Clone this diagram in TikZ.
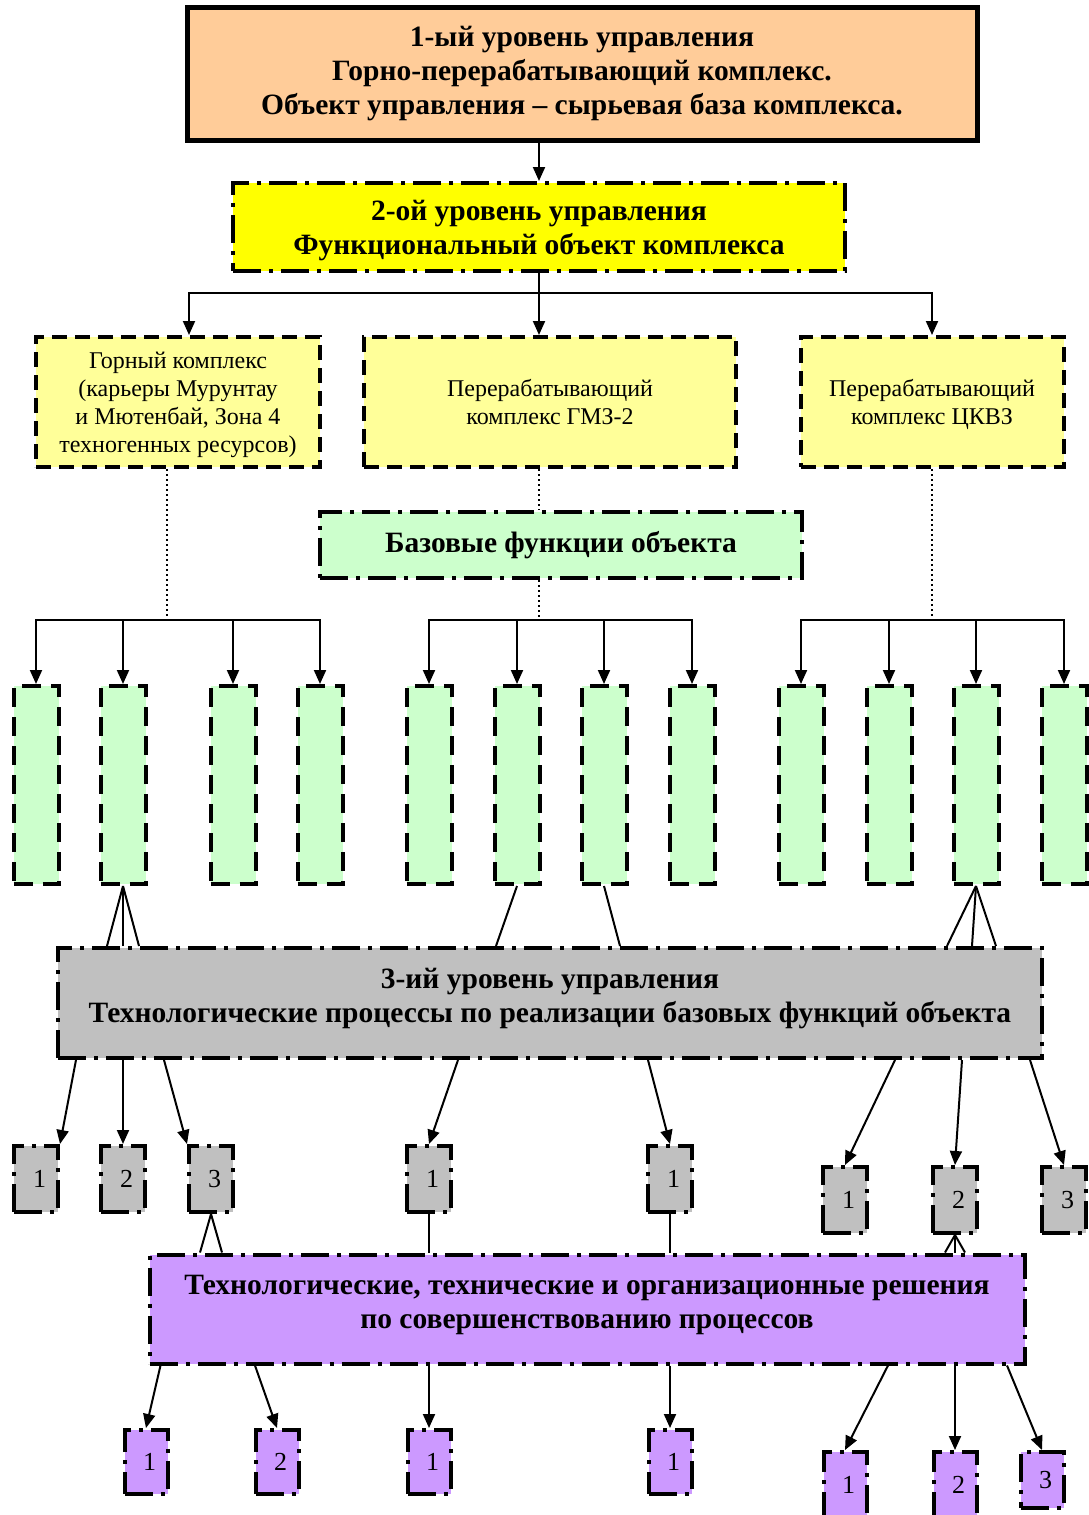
\documentclass[tikz,border=0pt]{standalone}
\usepackage{fontspec}
\setmainfont{Liberation Serif}
\usetikzlibrary{arrows.meta,calc}
\definecolor{peach}{HTML}{FFCC99}
\definecolor{lemon}{HTML}{FFFF00}
\definecolor{paleyellow}{HTML}{FFFF99}
\definecolor{mint}{HTML}{CCFFCC}
\definecolor{silver}{HTML}{C0C0C0}
\definecolor{lilac}{HTML}{CC99FF}
\begin{document}
\begin{tikzpicture}[x=1pt,y=-1pt,
  arr/.style={-{Triangle[length=14pt,width=12pt]}, line width=2pt},
  link/.style={line width=2pt},
  dotline/.style={line width=2pt, dash pattern=on 2pt off 3pt},
  dashdot/.style={draw, rectangle, line width=4pt, dash pattern=on 28pt off 8pt on 4pt off 8pt},
  boldtext/.style={align=center, font=\bfseries\fontsize{29.5}{34}\selectfont},
  unitbox/.style={draw, rectangle, fill=paleyellow, line width=4pt, dash pattern=on 15pt off 8pt, minimum height=130pt, align=center, font=\fontsize{24}{28}\selectfont},
  funcbox/.style={draw, rectangle, fill=mint, line width=4pt, dash pattern=on 19pt off 10pt, minimum width=45pt, minimum height=198pt, node distance=87pt},
  procbox/.style={dashdot, fill=silver, minimum width=44pt, minimum height=66pt, font=\fontsize{26}{26}\selectfont},
  solbox/.style={dashdot, fill=lilac, minimum width=43pt, minimum height=64pt, font=\fontsize{26}{26}\selectfont}]
\useasboundingbox (0,0) rectangle (1088,1515);
\node (lvl1) [draw, rectangle, fill=peach, line width=5pt, minimum width=790pt, minimum height=133pt, boldtext] at (582,74) {1-ый уровень управления\\Горно-перерабатывающий комплекс.\\Объект управления – сырьевая база комплекса.};
\node (lvl2) [dashdot, fill=lemon, minimum width=612pt, minimum height=88pt, boldtext, text depth=0pt] at (539,227) {2-ой уровень управления\\Функциональный объект комплекса};
\node (mine) [unitbox, minimum width=284pt, text depth=-5pt] at (178,402) {Горный комплекс\\(карьеры Мурунтау\\и Мютенбай, Зона 4\\техногенных ресурсов)};
\node (gmz) [unitbox, minimum width=372pt, text depth=-4pt] at (550,402) {Перерабатывающий\\комплекс ГМЗ-2};
\node (ckvz) [unitbox, minimum width=263pt, text depth=-4pt] at (932,402) {Перерабатывающий\\комплекс ЦКВЗ};
\node (base) [dashdot, fill=mint, minimum width=482pt, minimum height=66pt, boldtext] at (561,545) {Базовые функции объекта};
\coordinate (fk0) at (539,293);
\coordinate (fkA) at (167,620);
\coordinate (fkB) at (539,620);
\coordinate (fkC) at (932,620);
\draw[arr] (lvl1.south -| lvl2) -- (lvl2.north);
\draw[link] (lvl2.south -| fk0) -- (fk0);
\draw[arr] (fk0) -| ($(mine.north)+(11,0)$);
\draw[arr] (fk0) -- (gmz.north -| fk0);
\draw[arr] (fk0) -| (ckvz.north);
\draw[dotline] (mine.south -| fkA) -- (fkA);
\draw[dotline] (gmz.south -| fkB) -- (base.north -| fkB);
\draw[dotline] (base.south -| fkB) -- (fkB);
\draw[dotline] (ckvz.south -| fkC) -- (fkC);
\node (g1) [funcbox] at (36,785) {};
\node (g2) [funcbox, right of=g1] {};
\node (g3) [funcbox, node distance=110pt, right of=g2] {};
\node (g4) [funcbox, right of=g3] {};
\node (g5) [funcbox, node distance=109pt, right of=g4] {};
\node (g6) [funcbox, node distance=88pt, right of=g5] {};
\node (g7) [funcbox, right of=g6] {};
\node (g8) [funcbox, node distance=88pt, right of=g7] {};
\node (g9) [funcbox, node distance=109pt, right of=g8] {};
\node (g10) [funcbox, node distance=88pt, right of=g9] {};
\node (g11) [funcbox, right of=g10] {};
\node (g12) [funcbox, node distance=88pt, right of=g11] {};
\draw[arr] (fkA) -| (g1.north);
\draw[arr] (fkA) -| (g2.north);
\draw[arr] (fkA) -| (g3.north);
\draw[arr] (fkA) -| (g4.north);
\draw[arr] (fkB) -| (g5.north);
\draw[arr] (fkB) -| (g6.north);
\draw[arr] (fkB) -| (g7.north);
\draw[arr] (fkB) -| (g8.north);
\draw[arr] (fkC) -| (g9.north);
\draw[arr] (fkC) -| (g10.north);
\draw[arr] (fkC) -| (g11.north);
\draw[arr] (fkC) -| (g12.north);
\node (tech) [dashdot, fill=silver, minimum width=984pt, minimum height=110pt, boldtext, text depth=15pt] at (550,1003) {3-ий уровень управления\\Технологические процессы по реализации базовых функций объекта};
\draw[link] (g2.south) -- ($(g2.south |- tech.north)+(-16,0)$);
\draw[link] (g2.south) -- (g2.south |- tech.north);
\draw[link] (g2.south) -- ($(g2.south |- tech.north)+(16,0)$);
\draw[link] (g6.south) -- ($(g6.south |- tech.north)+(-21,0)$);
\draw[link] (g7.south) -- ($(g7.south |- tech.north)+(16,0)$);
\draw[link] (g11.south) -- ($(g11.south |- tech.north)+(-29,0)$);
\draw[link] (g11.south) -- ($(g11.south |- tech.north)+(-4,0)$);
\draw[link] (g11.south) -- ($(g11.south |- tech.north)+(20,0)$);
\node (s1) [procbox] at (36,1179) {\hspace{7pt}1};
\node (s2) [procbox, node distance=87pt, right of=s1] {\hspace{7pt}2};
\node (s3) [procbox, node distance=88pt, right of=s2] {\hspace{7pt}3};
\node (s4) [procbox, node distance=218pt, right of=s3] {\hspace{7pt}1};
\node (s5) [procbox, node distance=241pt, right of=s4] {\hspace{7pt}1};
\node (s6) [procbox] at (845,1200) {\hspace{7pt}1};
\node (s7) [procbox, node distance=110pt, right of=s6] {\hspace{7pt}2};
\node (s8) [procbox, node distance=109pt, right of=s7] {\hspace{7pt}3};
\draw[arr] ($(tech.south west)+(20,0)$) -- (s1.north east);
\draw[arr] (tech.south -| s2) -- (s2.north);
\draw[arr] ($(tech.south west)+(108,0)$) -- (s3.north west);
\draw[arr] ($(tech.south -| s4)+(29,0)$) -- (s4.north);
\draw[arr] ($(tech.south -| s5)+(-22,0)$) -- (s5.north);
\draw[arr] ($(tech.south -| s6)+(50,0)$) -- (s6.north);
\draw[arr] ($(tech.south -| s7)+(7,0)$) -- (s7.north);
\draw[arr] ($(tech.south -| s8)+(-34,0)$) -- (s8.north);
\node (impr) [dashdot, fill=lilac, minimum width=875pt, minimum height=109pt, boldtext, text depth=15pt] at (587,1309) {Технологические, технические и организационные решения\\по совершенствованию процессов};
\draw[link] (s3.south) -- ($(s3.south |- impr.north)+(-11,0)$);
\draw[link] (s3.south) -- ($(s3.south |- impr.north)+(11,0)$);
\draw[link] (s4.south) -- (s4.south |- impr.north);
\draw[link] (s5.south) -- (s5.south |- impr.north);
\draw[link] (s7.south) -- ($(s7.south |- impr.north)+(-10,0)$);
\draw[link] (s7.south) -- (s7.south |- impr.north);
\draw[link] (s7.south) -- ($(s7.south |- impr.north)+(10,0)$);
\node (p1) [solbox] at (146,1462) {\hspace{7pt}1};
\node (p2) [solbox, node distance=131pt, right of=p1] {\hspace{7pt}2};
\node (p3) [solbox, node distance=152pt, right of=p2] {\hspace{7pt}1};
\node (p4) [solbox, node distance=241pt, right of=p3] {\hspace{7pt}1};
\node (p5) [solbox, minimum height=66pt] at (845,1485) {\hspace{7pt}1};
\node (p6) [solbox, minimum height=66pt, node distance=110pt, right of=p5] {\hspace{7pt}2};
\node (p7) [solbox, minimum height=56pt] at (1042,1480) {\hspace{7pt}3};
\draw[arr] ($(impr.south west)+(13,0)$) -- (p1.north);
\draw[arr] ($(impr.south -| p2)+(-22,0)$) -- (p2.north);
\draw[arr] (impr.south -| p3) -- (p3.north);
\draw[arr] (impr.south -| p4) -- (p4.north);
\draw[arr] ($(impr.south -| p5)+(43,0)$) -- (p5.north);
\draw[arr] (impr.south -| p6) -- (p6.north);
\draw[arr] ($(impr.south -| p7)+(-35,0)$) -- (p7.north);
\end{tikzpicture}
\end{document}
